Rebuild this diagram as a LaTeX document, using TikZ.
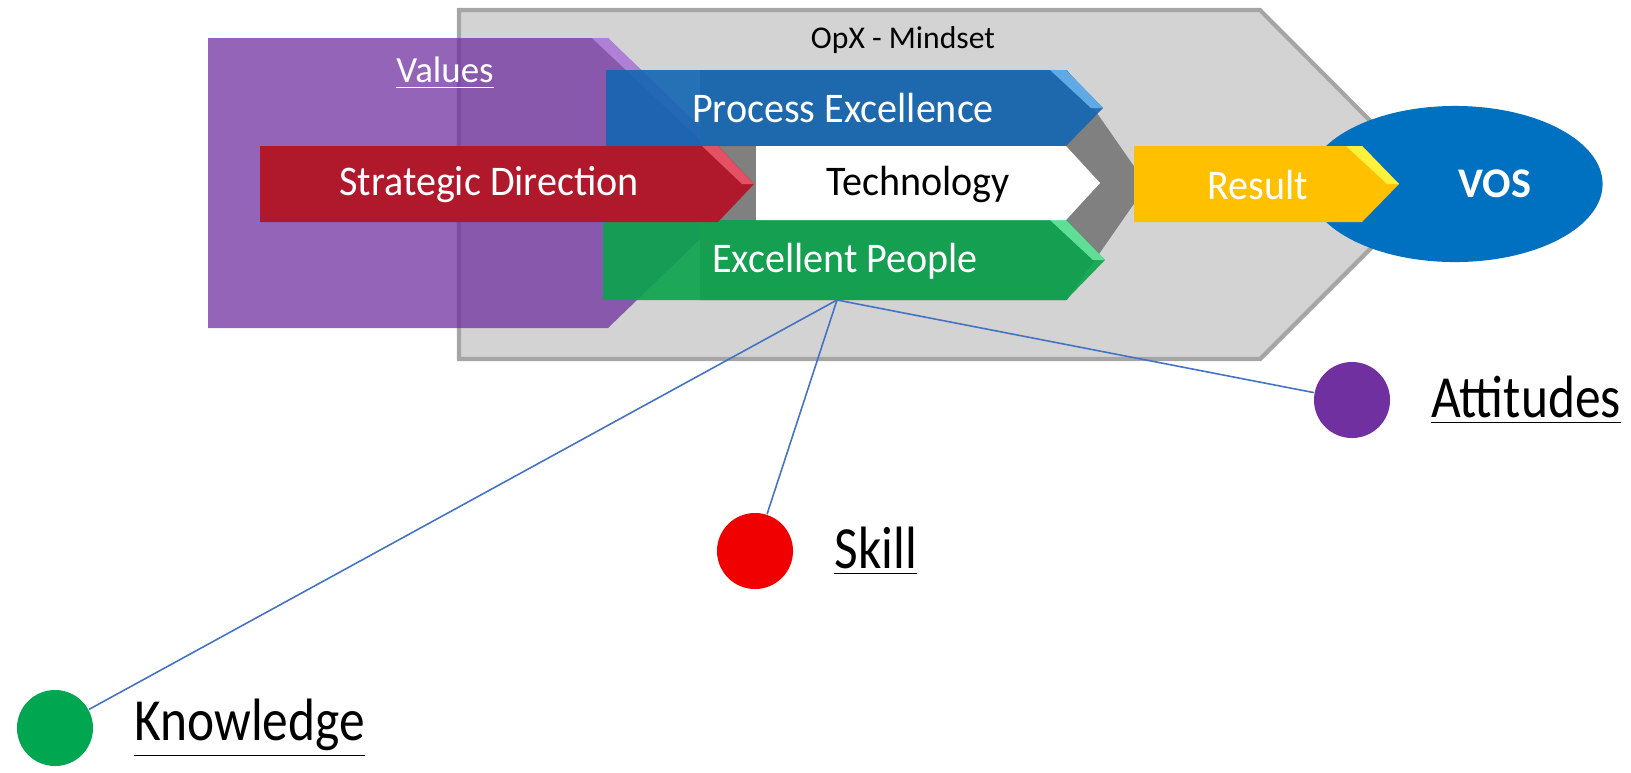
\documentclass[tikz,border=0pt]{standalone}
\usepackage{fontspec}
\setmainfont{Carlito}
\newfontfamily\bandfont[FakeStretch=0.95]{Carlito}
\newfontfamily\tagfont[FakeStretch=0.86]{Carlito}
\usepackage{tikz}
\usetikzlibrary{shapes.geometric,positioning}
\definecolor{opxgray}{RGB}{211,211,211}
\definecolor{opxedge}{RGB}{165,165,165}
\definecolor{techgray}{RGB}{128,128,128}
\definecolor{valpurple}{RGB}{112,48,160}
\definecolor{valshine}{RGB}{185,140,225}
\definecolor{procblue}{RGB}{20,102,178}
\definecolor{procshine}{RGB}{95,170,230}
\definecolor{stratred}{RGB}{176,24,44}
\definecolor{stratshine}{RGB}{228,80,100}
\definecolor{peoplegreen}{RGB}{10,164,76}
\definecolor{peopleshine}{RGB}{95,222,150}
\definecolor{resultyellow}{RGB}{255,192,0}
\definecolor{resultshine}{RGB}{255,240,60}
\definecolor{vosblue}{RGB}{0,112,192}
\definecolor{linkblue}{RGB}{68,114,196}
\definecolor{knowgreen}{RGB}{0,166,80}
\definecolor{skillred}{RGB}{240,0,0}
\definecolor{attpurple}{RGB}{112,48,160}
% #1 style, #2 left, #3 top, #4 end of body, #5 tip, #6 bottom
\newcommand{\band}[6]{%
    \fill[#1] (#2,#3) -- (#4,#3) -- (#5,{(#3+#6)/2}) -- (#4,#6) -- (#2,#6) -- cycle;%
}
% light bevel on the upper edge of the tip
\newcommand{\shine}[5]{%
    \fill[#1] ({#3-16},#2) -- (#3,#2) -- (#4,{(#2+#5)/2}) -- ({#4-12},{(#2+#5)/2}) -- cycle;%
}

\begin{document}
\begin{tikzpicture}[x=0.01cm,y=-0.01cm,
every node/.style={inner sep=0pt},
bandtext/.style={text=white,font=\bandfont\fontsize{12}{14}\selectfont},
dot/.style={circle,minimum size=0.76cm},
tag/.style={font=\tagfont\fontsize{17}{19}\selectfont},
link/.style={draw=linkblue,line width=0.45pt}]
\useasboundingbox (0,0) rectangle (1631,772);

% background mindset and values
\draw[fill=opxgray,draw=opxedge,line width=1.2pt] (459,10) -- (1260,10) -- (1434,185) -- (1260,359) -- (459,359) -- cycle;
\band{valpurple,fill opacity=0.75}{208}{38}{608}{758}{328}
\shine{valshine,fill opacity=0.8}{38}{608}{758}{328}
\node[font=\fontsize{9}{11}\selectfont] (mindset) at (903,40) {OpX - Mindset};
\node[text=white,font=\fontsize{10.5}{12}\selectfont] (values) at (445,73) {\underline{Values}};

% the three bands
\band{techgray}{700}{70}{1067}{1147}{300}
\band{procblue,fill opacity=0.9}{606}{70}{1066}{1103}{146}
\shine{procshine}{70}{1066}{1103}{146}
\band{peoplegreen,fill opacity=0.9}{603}{220}{1066}{1105}{300}
\shine{peopleshine}{220}{1066}{1105}{300}
\band{stratred}{260}{146}{718}{754}{222}
\shine{stratshine}{146}{718}{754}{222}
\band{white}{756}{146}{1066}{1100}{220}
\node[bandtext] (procexc) at (843,108) {Process Excellence};
\node[bandtext] (people) at (845,261) {Excellent People};
\node[bandtext] (strat) at (489,185) {Strategic Direction};
\node[bandtext,text=black] (tech) at (918,184) {Technology};

% outcome
\node[ellipse,fill=vosblue,text=white,minimum width=2.95cm,minimum height=1.56cm,
  font=\bfseries\fontsize{12}{14}\selectfont] (vos) at (1455,184) {\hspace{0.8cm}VOS};
\band{resultyellow}{1134}{146}{1362}{1399}{222}
\shine{resultshine}{146}{1362}{1399}{222}
\node[bandtext] (result) at (1258,185) {Result};

% people split into three
\coordinate (foot) at (837,300);
\node[dot,fill=knowgreen] (know) at (55,728) {};
\node[dot,fill=skillred] (skill) at (755,551) {};
\node[dot,fill=attpurple] (att) at (1352,400) {};
\draw[link] (foot) -- (know);
\draw[link] (foot) -- (skill);
\draw[link] (foot) -- (att);
\node[tag,right=0.4cm of know] (knowlbl) {\underline{Knowledge}};
\node[tag,right=0.4cm of skill] (skilllbl) {\underline{Skill}};
\node[tag,right=0.4cm of att] (attlbl) {\underline{Attitudes}};
\end{tikzpicture}
\end{document}
